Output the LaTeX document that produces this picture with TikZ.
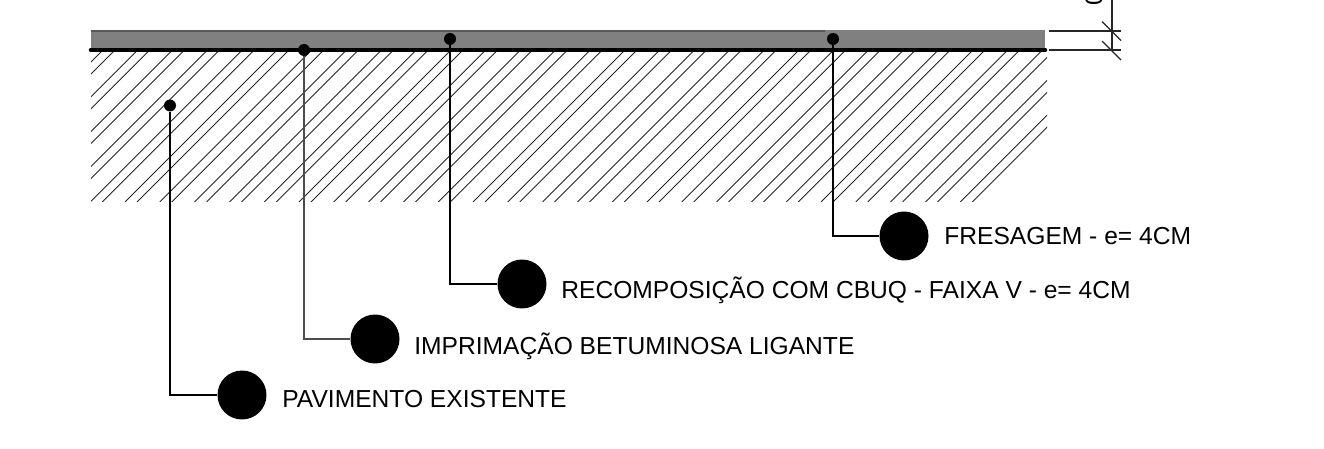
\documentclass[tikz,border=0pt]{standalone}
\usepackage{fontspec}
\setmainfont{Liberation Sans}
\usetikzlibrary{positioning}
\tikzstyle{bigdot} = [circle,fill=black,draw=none,minimum size=0.98cm,inner sep=0pt]
\tikzstyle{smalldot} = [circle,fill=black,draw=none,minimum size=0.24cm,inner sep=0pt]
\tikzstyle{label} = [anchor=west,inner sep=0pt,font=\fontsize{14}{16}\selectfont]
\tikzstyle{leader} = [line width=0.62pt,black]
\tikzstyle{hatchline} = [line width=0.5pt,black!85]
\tikzstyle{dimline} = [line width=0.7pt,black!85]

\begin{document}
\begin{tikzpicture}[x=0.02cm,y=-0.02cm]
\useasboundingbox (0,0) rectangle (1324,449);
\clip (0,0) rectangle (1324,449);

% ground
\begin{scope}
  \clip (91,50) rectangle (1047,202);
  \foreach \k in {-5,...,24} {
    \draw[hatchline] ({125+34.8*\k},202) -- ++(152,-152);
    \draw[hatchline] ({137+34.8*\k},202) -- ++(152,-152);
  }
\end{scope}

% layers
\fill[black!50] (91,30) rectangle (1045,48);
\draw[line width=0.6pt,black!65] (91,31) -- (825,31);
\draw[line width=2.6pt,line cap=round] (91,50) -- (1045,50);

% points
\node[smalldot] (pointF) at (833,39) {};
\node[smalldot] (pointR) at (450,39) {};
\node[smalldot] (pointI) at (304,50) {};
\node[smalldot] (pointP) at (170,105.5) {};

% balloons
\node[bigdot] (dotF) at (904,236) {};
\node[bigdot] (dotR) at (522,284) {};
\node[bigdot] (dotI) at (375,339) {};
\node[bigdot] (dotP) at (242,395) {};

\node[label] (textF) at (944,236) {FRESAGEM - e= 4CM};
\node[label] (textR) at (561,290) {RECOMPOSIÇÃO COM CBUQ - FAIXA V - e= 4CM};
\node[label] (textI) at (414,346) {IMPRIMAÇÃO BETUMINOSA LIGANTE};
\node[label] (textP) at (282,399) {PAVIMENTO EXISTENTE};

\draw[leader] (pointF) |- (dotF);
\draw[leader] (pointR) |- (dotR);
\draw[leader,black!70] (pointI) |- (dotI);
\draw[leader] (pointP) |- (dotP);

% dimension
\coordinate (dimA) at (1049,31);
\coordinate (dimB) at (1121,31);
\coordinate (dimC) at (1049,50);
\coordinate (dimD) at (1121,50);
\coordinate (dimE) at (1112,0);
\coordinate (dimF) at (1112,50);
\coordinate (tickA) at (1102,21.5);
\coordinate (tickB) at (1121,40.5);
\coordinate (tickC) at (1102,41);
\coordinate (tickD) at (1121,60);
\draw[dimline] (dimA) -- (dimB);
\draw[dimline] (dimC) -- (dimD);
\draw[dimline] (dimE) -- (dimF);
\draw[dimline] (tickA) -- (tickB);
\draw[dimline] (tickC) -- (tickD);
\node[label,anchor=center,rotate=90] (textD) at (1094,-1) {0};
\end{tikzpicture}
\end{document}
